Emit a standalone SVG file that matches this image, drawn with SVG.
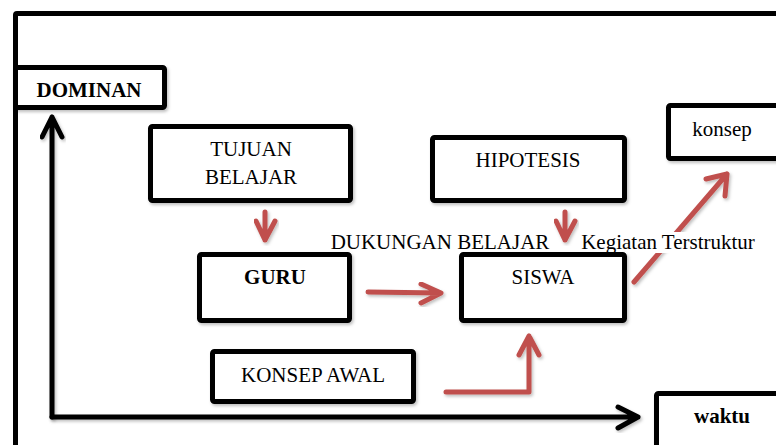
<svg xmlns="http://www.w3.org/2000/svg" width="776" height="445" viewBox="0 0 776 445">
  <defs>
    <filter id="shadow" x="-10%" y="-10%" width="130%" height="130%">
      <feDropShadow dx="1.5" dy="2" stdDeviation="1.5" flood-color="#000" flood-opacity="0.25"/>
    </filter>
  </defs>
  <style>
    .box { fill: #fff; stroke: #000; stroke-width: 5; filter: url(#shadow); }
    .lbl { font-family: "Liberation Serif", "Times New Roman", serif; font-size: 21px; fill: #000; text-anchor: middle; }
    .b { font-weight: bold; }
    .axis { fill: none; stroke: #000; stroke-width: 5; stroke-linecap: round; stroke-linejoin: round; filter: url(#shadow); }
    .flow { fill: none; stroke: #C0504D; stroke-width: 5; stroke-linecap: round; stroke-linejoin: round; filter: url(#shadow); }
  </style>

  <rect width="776" height="445" fill="#fff"/>

  <!-- outer frame -->
  <path d="M15.5 445 V15 Q15.5 13.5 17 13.5 H780" fill="none" stroke="#000" stroke-width="5"/>

  <!-- connectors -->
  <g id="connectors">
    <!-- axes -->
    <path class="axis" d="M52 417 V117 M42 137 L52 117 L62 137"/>
    <path class="axis" d="M52 417 H638 M618 407 L638 417 L618 428"/>
    <!-- tujuan -> guru -->
    <path class="flow" d="M265 212 V240 M256 221 L265 240 L275 221"/>
    <!-- hipotesis -> siswa -->
    <path class="flow" d="M565 212 V240 M556 221 L565 240 L575 221"/>
    <!-- guru -> siswa -->
    <path class="flow" d="M368 292 L441 293 M421 284 L441 293 L421 303"/>
    <!-- konsep awal -> siswa -->
    <path class="flow" d="M446 392 H529 V336 M519 355 L529 336 L539 355"/>
    <!-- siswa -> konsep -->
    <path class="flow" d="M634 282 L727 174 M706 179 L727 174 L725 196"/>
  </g>

  <g id="dominan">
    <rect class="box" x="15.5" y="67.5" width="149" height="40" rx="2"/>
    <text class="lbl b" x="89" y="97">DOMINAN</text>
  </g>

  <g id="tujuan-belajar">
    <rect class="box" x="150.5" y="126.5" width="200" height="74" rx="2"/>
    <text class="lbl" x="251" y="156">TUJUAN</text>
    <text class="lbl" x="251" y="184">BELAJAR</text>
  </g>

  <g id="hipotesis">
    <rect class="box" x="432.5" y="137.5" width="192" height="63" rx="2"/>
    <text class="lbl" x="528" y="167">HIPOTESIS</text>
  </g>

  <g id="konsep">
    <rect class="box" x="668.5" y="105.5" width="120" height="53" rx="2"/>
    <text class="lbl" x="722" y="136">konsep</text>
  </g>

  <g id="dukungan-belajar">
    <text class="lbl" x="440" y="249">DUKUNGAN BELAJAR</text>
  </g>

  <g id="kegiatan-terstruktur">
    <rect x="578" y="232" width="180" height="21" fill="#fff"/>
    <text class="lbl" x="668" y="249">Kegiatan Terstruktur</text>
  </g>

  <g id="guru">
    <rect class="box" x="199.5" y="254.5" width="150" height="66" rx="2"/>
    <text class="lbl b" x="275" y="284">GURU</text>
  </g>

  <g id="siswa">
    <rect class="box" x="461.5" y="254.5" width="163" height="66" rx="2"/>
    <text class="lbl" x="543" y="284">SISWA</text>
  </g>

  <g id="konsep-awal">
    <rect class="box" x="212.5" y="351.5" width="201" height="50" rx="2"/>
    <text class="lbl" x="313" y="382">KONSEP AWAL</text>
  </g>

  <g id="waktu">
    <rect class="box" x="656.5" y="393.5" width="130" height="60" rx="2"/>
    <text class="lbl b" x="722" y="423">waktu</text>
  </g>
</svg>
